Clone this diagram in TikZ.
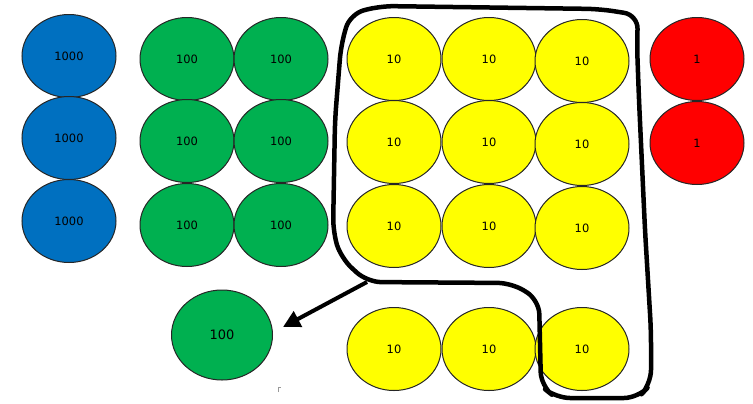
\documentclass[tikz,border=0pt]{standalone}
\usepackage{fontspec}
\setmainfont{DejaVu Sans}
\usetikzlibrary{shapes.geometric,arrows.meta}
\definecolor{cblue}{RGB}{0,112,192}
\definecolor{cgreen}{RGB}{0,176,80}
\definecolor{cyellow}{RGB}{255,255,0}
\definecolor{cred}{RGB}{255,0,0}
\begin{document}
\begin{tikzpicture}[x=1bp,y=-1bp,
  disc/.style={ellipse,draw=black!85,line width=1bp,minimum width=94bp,minimum height=83bp,inner sep=0pt,font=\fontsize{11.5}{12}\selectfont},
  thou/.style={disc,fill=cblue},
  hund/.style={disc,fill=cgreen},
  ten/.style={disc,fill=cyellow},
  one/.style={disc,fill=cred},
  loop/.style={line width=4.5bp,line join=round,line cap=round},
  arr/.style={line width=4bp,-{Triangle[length=17bp,width=17bp]}}]
\useasboundingbox (0,0) rectangle (753,403);
% thousands
\node[thou] (b1) at (69,56) {1000};
\node[thou] (b2) at (69,138) {1000};
\node[thou] (b3) at (69,221) {1000};
% hundreds
\node[hund] (g11) at (187,59) {100};
\node[hund] (g12) at (281,59) {100};
\node[hund] (g21) at (187,141) {100};
\node[hund] (g22) at (281,141) {100};
\node[hund] (g31) at (187,225) {100};
\node[hund] (g32) at (281,225) {100};
% tens
\node[ten] (y11) at (394,59) {10};
\node[ten] (y12) at (489,59) {10};
\node[ten] (y13) at (582,61) {10};
\node[ten] (y21) at (394,142) {10};
\node[ten] (y22) at (489,142) {10};
\node[ten] (y23) at (582,144) {10};
\node[ten] (y31) at (394,226) {10};
\node[ten] (y32) at (489,226) {10};
\node[ten] (y33) at (582,228) {10};
\node[ten] (y41) at (394,349) {10};
\node[ten] (y42) at (489,349) {10};
\node[ten] (y43) at (582,349) {10};
% ones
\node[one] (r1) at (697,59) {1};
\node[one] (r2) at (697,143) {1};
% exchanged hundred
\node[hund,minimum width=101bp,minimum height=90bp,font=\fontsize{13}{14}\selectfont] (g0) at (222,335) {100};
% loop around ten tens
\coordinate (j) at (367,282);
\draw[loop,rounded corners=14bp] (j) -- (512,283) -- (539,300) -- (541,386) -- (556,398) -- (638,398) -- (651,384) -- (651,330) -- (645,230) -- (639,100) -- (637,45) -- (638,15) -- (600,9) -- (380,6) -- (350,14) -- (341,45) -- (335,120) -- (333,232) -- (341,258) -- cycle;
% arrow
\coordinate (tip) at (283,327);
\draw[arr] (j) -- (tip);
% small mark
\coordinate (m) at (278,387);
\draw[black!40,line width=0.8bp] ([yshift=-5bp]m) -- (m) -- ([xshift=3bp]m);
\end{tikzpicture}
\end{document}
